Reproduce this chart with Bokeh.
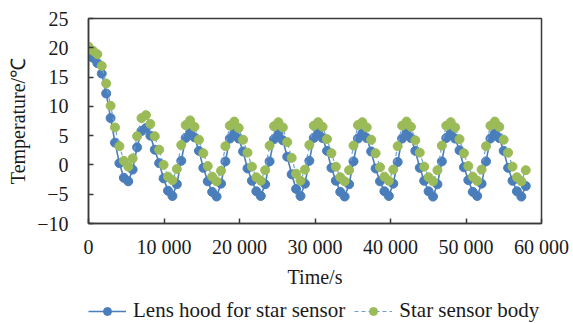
from bokeh.plotting import figure
from bokeh.layouts import column
from bokeh.models import FixedTicker, Legend, LegendItem, Range1d
from bokeh.embed import file_html
from bokeh.resources import INLINE

time_s = [0, 585, 1170, 1755, 2340, 2925, 3510, 4095, 4680, 5265,
          5850, 6435, 7020, 7605, 8190, 8775, 9360, 9945, 10530, 11115,
          11700, 12285, 12870, 13455, 14040, 14625, 15210, 15795, 16380, 16965,
          17550, 18135, 18720, 19305, 19890, 20475, 21060, 21645, 22230, 22815,
          23400, 23985, 24570, 25155, 25740, 26325, 26910, 27495, 28080, 28665,
          29250, 29835, 30420, 31005, 31590, 32175, 32760, 33345, 33930, 34515,
          35100, 35685, 36270, 36855, 37440, 38025, 38610, 39195, 39780, 40365,
          40950, 41535, 42120, 42705, 43290, 43875, 44460, 45045, 45630, 46215,
          46800, 47385, 47970, 48555, 49140, 49725, 50310, 50895, 51480, 52065,
          52650, 53235, 53820, 54405, 54990, 55575, 56160, 56745, 57330, 57915]

lens_hood = [18.6, 18.3, 17.4, 15.6, 12.2, 8.0, 3.8, 0.3, -2.2, -2.8,
             -0.8, 3.0, 5.8, 6.3, 5.0, 2.6, 0.3, -2.3, -4.4, -5.3,
             -3.3, 0.7, 4.6, 5.5, 4.7, 2.4, -0.5, -2.8, -4.6, -5.4,
             -3.2, 0.6, 4.5, 5.4, 4.5, 2.3, -0.6, -2.7, -4.5, -5.3,
             -3.3, 0.6, 4.4, 5.3, 4.2, 1.4, -1.6, -4.1, -5.3,
             -3.2, 0.7, 4.6, 5.5, 4.6, 2.4, -0.5, -2.7, -4.6, -5.4,
             -3.3, 0.6, 4.5, 5.4, 4.6, 2.3, -0.6, -2.8, -4.5, -5.3,
             -3.2, 0.5, 4.5, 5.5, 4.6, 2.4, -0.5, -2.7, -4.5, -5.4,
             -3.3, 0.6, 4.6, 5.4, 4.5, 2.5, -0.4, -2.6, -4.6, -5.3,
             -3.2, 0.6, 4.5, 5.4, 4.6, 2.4, -0.5, -2.7, -4.5, -5.4,
             -3.6]

sensor_body = [20.2, 19.5, 18.9, 16.9, 13.9, 10.1, 6.4, 3.2, 0.7, -0.3,
               1.1, 4.9, 8.0, 8.5, 7.0, 4.9, 2.6, 0.0, -2.0, -2.6,
               -0.7, 3.4, 6.8, 7.6, 6.5, 4.3, 2.0, -0.2, -2.0, -2.8,
               -1.0, 3.2, 6.7, 7.4, 6.3, 4.3, 2.1, -0.3, -2.1, -2.7,
               -0.9, 3.3, 6.6, 7.3, 6.4, 3.9, 1.2, -1.5, -2.7,
               -0.8, 3.4, 6.7, 7.3, 6.5, 4.4, 2.0, -0.3, -2.1, -2.8,
               -0.9, 3.3, 6.8, 7.3, 6.4, 4.3, 2.0, -0.4, -2.0, -2.7,
               -0.8, 3.2, 6.7, 7.4, 6.5, 4.2, 2.1, -0.3, -2.1, -2.8,
               -0.9, 3.3, 6.7, 7.3, 6.4, 4.4, 2.0, -0.2, -2.0, -2.7,
               -0.8, 3.2, 6.7, 7.4, 6.5, 4.3, 2.1, -0.3, -2.1, -2.8,
               -0.9]

x_ticks = [0, 10000, 20000, 30000, 40000, 50000, 60000]
x_tick_labels = ["0", "10 000", "20 000", "30 000", "40 000", "50 000", "60 000"]
y_ticks = [-10, -5, 0, 5, 10, 15, 20, 25]
y_tick_labels = ["\u221210", "\u22125", "0", "5", "10", "15", "20", "25"]

series_names = ["Lens hood for star sensor", "Star sensor body"]

FONT = "Liberation Serif"
TXT = "#1a1a1a"
AX = "#3a3a3a"
BLUE = "#4a7ebb"
GREEN = "#9bbb59"
DASH = "#6f9fd6"

p = figure(width=573, height=290, output_backend="svg", toolbar_location=None,
           x_range=Range1d(0, 60000), y_range=Range1d(-10, 25),
           min_border_left=88, min_border_right=32, min_border_top=18,
           min_border_bottom=66)
p.grid.visible = False
p.outline_line_color = AX
p.outline_line_width = 1.5
p.background_fill_color = "white"
p.border_fill_color = "white"

p.line(time_s, lens_hood, line_color=BLUE, line_width=1.6)
p.scatter(time_s, lens_hood, size=9, fill_color=BLUE, line_color=BLUE)
p.line(time_s, sensor_body, line_color=DASH, line_width=1.2, line_dash="4 3")
p.scatter(time_s, sensor_body, size=9, fill_color=GREEN, line_color=GREEN)

for ax in (p.xaxis[0], p.yaxis[0]):
    ax.axis_line_color = AX
    ax.axis_line_width = 1.5
    ax.major_tick_line_color = AX
    ax.major_tick_line_width = 1.5
    ax.major_tick_in = 5
    ax.major_tick_out = 0
    ax.minor_tick_line_color = None
    ax.major_label_text_font = FONT
    ax.major_label_text_font_size = "20px"
    ax.major_label_text_color = TXT
    ax.axis_label_text_font = FONT
    ax.axis_label_text_font_size = "20px"
    ax.axis_label_text_font_style = "normal"
    ax.axis_label_text_color = TXT

p.xaxis.ticker = FixedTicker(ticks=x_ticks)
p.xaxis.major_label_overrides = dict(zip(x_ticks, x_tick_labels))
p.xaxis.axis_label = "Time/s"
p.xaxis.major_label_standoff = 12
p.xaxis.axis_label_standoff = 5

p.yaxis.ticker = FixedTicker(ticks=y_ticks)
p.yaxis.major_label_overrides = dict(zip(y_ticks, y_tick_labels))
p.yaxis.axis_label = "Temperature/\u2103"
p.yaxis.major_label_standoff = 20
p.yaxis.axis_label_standoff = 5

# legend strip below the chart (its renderers sit outside its visible range)
lg = figure(width=573, height=33, output_backend="svg", toolbar_location=None,
            x_range=Range1d(0, 1), y_range=Range1d(1000, 1001),
            min_border_left=0, min_border_right=0, min_border_top=0,
            min_border_bottom=0, x_axis_location=None, y_axis_location=None)
lg.grid.visible = False
lg.outline_line_color = None
lg.border_fill_color = "white"
r1 = lg.line(time_s, lens_hood, line_color=BLUE, line_width=1.6)
r2 = lg.scatter(time_s, lens_hood, size=9, fill_color=BLUE, line_color=BLUE)
r3 = lg.line(time_s, sensor_body, line_color=DASH, line_width=1.2, line_dash="4 3")
r4 = lg.scatter(time_s, sensor_body, size=9, fill_color=GREEN, line_color=GREEN)

legend = Legend(items=[LegendItem(label=series_names[0], renderers=[r1, r2]),
                       LegendItem(label=series_names[1], renderers=[r3, r4])],
                orientation="horizontal", location=(0, 0),
                glyph_width=38, glyph_height=20, label_standoff=7, spacing=9,
                padding=0, margin=0, border_line_alpha=0, background_fill_alpha=0,
                label_text_font=FONT, label_text_font_size="21px",
                label_text_color=TXT)
lg.add_layout(legend, "center")

layout = column(p, lg, spacing=0)
open("out.html", "w").write(file_html(layout, INLINE))
